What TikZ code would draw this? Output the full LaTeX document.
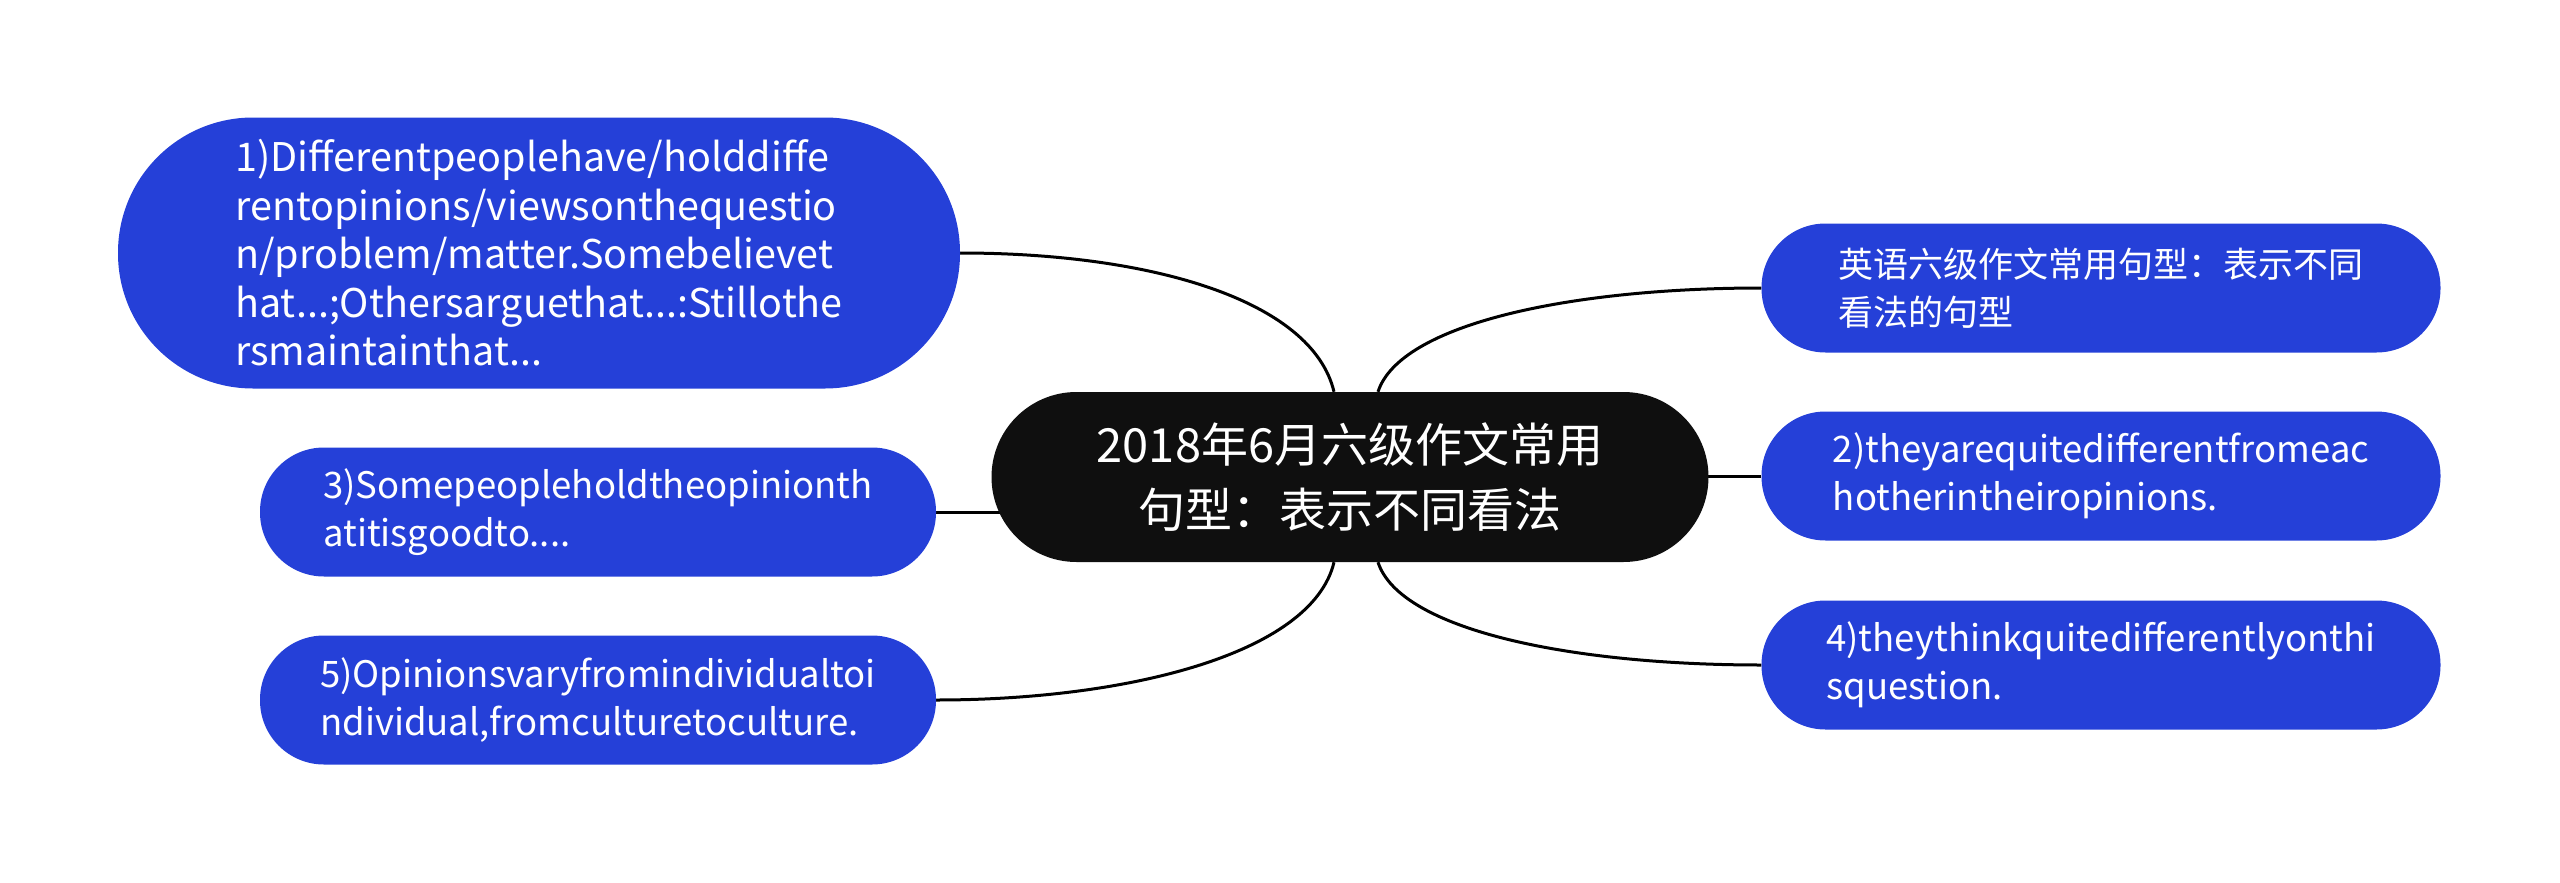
\documentclass[tikz,border=0pt]{standalone}
\usepackage{fontspec}
\setmainfont{Noto Sans CJK SC}
\usetikzlibrary{backgrounds}
\definecolor{nodeblue}{RGB}{37,64,216}
\definecolor{rootblack}{RGB}{15,15,15}
\begin{document}
\begin{tikzpicture}[x=1pt,y=-1pt,
  leaf/.style={fill=nodeblue, text=white, align=left, font=\fontsize{36.5}{48}\selectfont,
    minimum width=676pt, minimum height=129pt, rounded corners=64pt, inner sep=0pt},
  root/.style={fill=rootblack, text=white, align=center, font=\fontsize{47}{65}\selectfont,
    minimum width=717pt, minimum height=170pt, rounded corners=85pt, inner sep=0pt},
  link/.style={draw=black, line width=3pt}]
\useasboundingbox (0,0) rectangle (2560,883);
\node[root] (c) at (1350,477) {2018年6月六级作文常用\\句型：表示不同看法};
\node[leaf, minimum width=842pt, minimum height=271pt, rounded corners=135pt,
  font=\fontsize{39.5}{48.5}\selectfont] (n1) at (539,253)
  {1)Differentpeoplehave/holddiffe\\rentopinions/viewsonthequestio\\n/problem/matter.Somebelievet\\hat...;Othersarguethat...:Stillothe\\rsmaintainthat...};
\node[leaf] (n3) at (598,512) {3)Somepeopleholdtheopinionth\\atitisgoodto....};
\node[leaf] (n5) at (598,700) {5)Opinionsvaryfromindividualtoi\\ndividual,fromculturetoculture.};
\node[leaf, minimum width=679pt, font=\fontsize{35}{48}\selectfont] (t) at (2101,288) {英语六级作文常用句型：表示不同\\看法的句型};
\node[leaf, minimum width=679pt] (n2) at (2101,476) {2)theyarequitedifferentfromeac\\hotherintheiropinions.};
\node[leaf, minimum width=679pt] (n4) at (2101,665) {4)theythinkquitedifferentlyonthi\\squestion.};
\begin{scope}[on background layer]
\draw[link] (n1.east) .. controls +(190,0) and +(-22,-92) .. ([xshift=-16pt]c.north);
\draw[link] (t.west) .. controls +(-190,0) and +(22,-68) .. ([xshift=28pt]c.north);
\draw[link] (n5.east) .. controls +(190,0) and +(-22,92) .. ([xshift=-16pt]c.south);
\draw[link] (n4.west) .. controls +(-190,0) and +(22,68) .. ([xshift=28pt]c.south);
\draw[link] (n3.east) -- (n3.east -| c.center);
\draw[link] (n2.west) -- (n2.west -| c.center);
\end{scope}
\end{tikzpicture}
\end{document}
